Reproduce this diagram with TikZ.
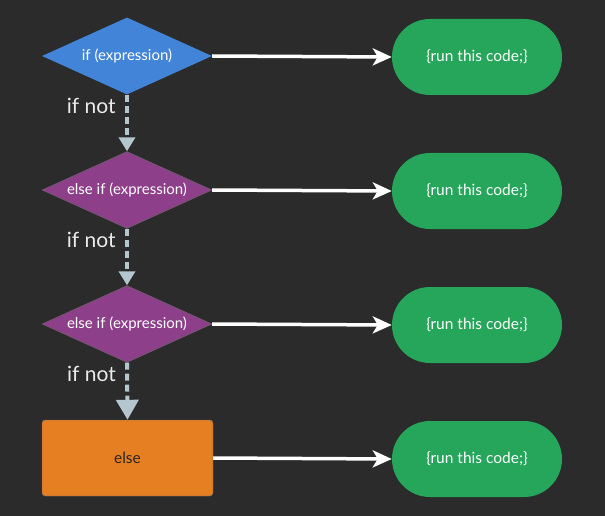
\documentclass[tikz,border=0pt]{standalone}
\usepackage{fontspec}
\setmainfont{Lato}
\usetikzlibrary{shapes.geometric,arrows.meta,positioning,calc}
\definecolor{bgdark}{RGB}{43,43,43}
\definecolor{ifblue}{RGB}{66,133,216}
\definecolor{elifpurple}{RGB}{142,63,138}
\definecolor{elseorange}{RGB}{230,126,34}
\definecolor{rungreen}{RGB}{38,166,91}
\definecolor{flowgray}{RGB}{180,198,206}

\begin{document}
\begin{tikzpicture}[
  x=1pt, y=-1pt,
  cond/.style={diamond, aspect=2.3, inner sep=0pt, minimum width=170pt, minimum height=77pt, text=white, font=\fontsize{15}{17}\selectfont},
  elsebox/.style={rectangle, rounded corners=3pt, draw=black!60, fill=elseorange, minimum width=171pt, minimum height=76pt, font=\fontsize{15.5}{17}\selectfont, text=black!85},
  runpill/.style={rectangle, rounded corners=38pt, fill=rungreen, minimum width=170pt, minimum height=76pt, text=white, font=\fontsize{15.5}{17}\selectfont},
  yesarr/.style={-{Stealth[length=19pt, width=17pt, inset=5pt]}, line width=3.5pt, white},
  noarr/.style={-{Triangle[length=14pt, width=16pt]}, line width=4pt, flowgray, dash pattern=on 7pt off 4pt},
  notlbl/.style={font=\fontsize{21}{23}\selectfont, text=white!92!black}
]
% ================= BACKGROUND =================
\fill[bgdark] (0,0) rectangle (605,516);
\useasboundingbox (0,0) rectangle (605,516);

% --- conditions (left column) ---
\node[cond, fill=ifblue] (if1) at (127,56) {if (expression)};
\node[cond, fill=elifpurple, draw=black!60] (elif1) at (127,190) {else if (expression)};
\node[cond, fill=elifpurple, draw=black!60] (elif2) at (127,324) {else if (expression)};
\node[elsebox] (els) at (127.5,458) {else};

% --- code blocks (right column) ---
\node[runpill] (run1) at (477,57) {\{run this code;\}};
\node[runpill] (run2) at (477,191) {\{run this code;\}};
\node[runpill] (run3) at (477,325) {\{run this code;\}};
\node[runpill] (run4) at (477,459) {\{run this code;\}};

% --- true branches ---
\draw[yesarr] (if1.east) -- (run1.west);
\draw[yesarr] (elif1.east) -- (run2.west);
\draw[yesarr] (elif2.east) -- (run3.west);
\draw[yesarr] (els.east) -- (run4.west);

% --- false branches ---
\draw[noarr] (if1.south) -- node[notlbl, pos=0.2, left=6pt] (not1) {if not} (elif1.north);
\draw[noarr] (elif1.south) -- node[notlbl, pos=0.2, left=6pt] (not2) {if not} (elif2.north);
\draw[noarr, -{Triangle[length=20pt, width=22pt]}] (elif2.south) -- node[notlbl, pos=0.2, left=6pt] (not3) {if not} (els.north);
\end{tikzpicture}
\end{document}
